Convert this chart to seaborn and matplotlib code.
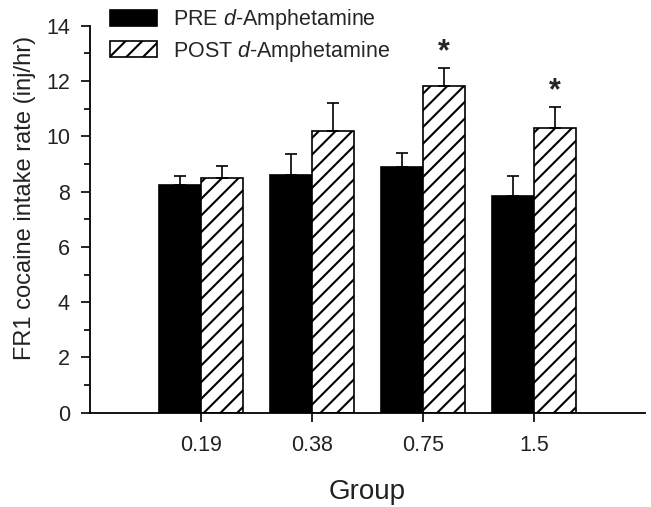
import matplotlib
matplotlib.use('Agg')
import matplotlib.pyplot as plt
import seaborn as sns
import pandas as pd
import numpy as np
from matplotlib.patches import Patch
from matplotlib.ticker import MultipleLocator

# data
groups = ['0.19', '0.38', '0.75', '1.5']
pre_mean = [8.23, 8.59, 8.91, 7.85]
pre_err = [0.34, 0.79, 0.50, 0.73]
post_mean = [8.50, 10.20, 11.84, 10.29]
post_err = [0.43, 1.02, 0.62, 0.76]
post_signif = [False, False, True, True]
conditions = ['PRE', 'POST']

sns.set_style('ticks')
plt.rcParams['font.family'] = ['Liberation Sans', 'DejaVu Sans']
plt.rcParams['mathtext.fontset'] = 'custom'
plt.rcParams['mathtext.rm'] = 'Liberation Sans'
plt.rcParams['mathtext.it'] = 'Liberation Sans:italic'
plt.rcParams['hatch.linewidth'] = 1.5

df = pd.DataFrame({
    'Group': groups * 2,
    'rate': pre_mean + post_mean,
    'cond': [conditions[0]] * len(groups) + [conditions[1]] * len(groups),
})

fig = plt.figure(figsize=(6.51, 5.07), dpi=100)
ax = fig.add_axes([0.138, 0.186, 0.853, 0.763])

sns.barplot(data=df, x='Group', y='rate', hue='cond', palette=['black', 'white'],
            width=0.76, gap=0, errorbar=None, edgecolor='black', linewidth=1.2,
            saturation=1, legend=False, ax=ax)

# hatch the POST bars
for bar in ax.containers[1]:
    bar.set_hatch('//')

# one-sided error bars (SEM, up only)
for cont, means, errs in [(ax.containers[0], pre_mean, pre_err),
                          (ax.containers[1], post_mean, post_err)]:
    xs = [b.get_x() + b.get_width() / 2 for b in cont]
    ax.errorbar(xs, means, yerr=[np.zeros(len(errs)), errs], fmt='none',
                ecolor='black', elinewidth=1.2, capsize=4.5, capthick=1.2, zorder=1)

# significance stars
for b, m, e, s in zip(ax.containers[1], post_mean, post_err, post_signif):
    if s:
        ax.annotate('*', (b.get_x() + b.get_width() / 2, m + e), xytext=(0, 1),
                    textcoords='offset points', ha='center', va='bottom',
                    fontsize=22, fontweight='bold')

ax.set_xlim(-1, 4)
ax.set_ylim(0, 14)
ax.yaxis.set_major_locator(MultipleLocator(2))
ax.yaxis.set_minor_locator(MultipleLocator(1))
ax.tick_params(axis='both', which='major', direction='out', length=6.3, width=1.2,
               labelsize=15.5, color='black', labelcolor='#222222')
ax.tick_params(axis='y', which='major', pad=8)
ax.tick_params(axis='x', which='major', pad=10)
ax.tick_params(axis='y', which='minor', direction='out', length=4.5, width=1.2, color='black')
sns.despine(ax=ax)
for sp in ['left', 'bottom']:
    ax.spines[sp].set_linewidth(1.3)
    ax.spines[sp].set_color('black')

ax.set_xlabel('Group', fontsize=20, labelpad=16, color='#222222')
ax.set_ylabel('FR1 cocaine intake rate (inj/hr)', fontsize=17, labelpad=7, color='#222222')
ax.yaxis.label.set_y(0.556)

handles = [Patch(facecolor='black', edgecolor='black', linewidth=1.2),
           Patch(facecolor='white', edgecolor='black', linewidth=1.2, hatch='//')]
labels = ['PRE $\\mathit{d}$-Amphetamine', 'POST $\\mathit{d}$-Amphetamine']
fig.legend(handles, labels, loc='upper left', bbox_to_anchor=(0.169, 0.986),
           frameon=False, fontsize=15.5, borderpad=0, borderaxespad=0,
           handlelength=2.17, handleheight=0.78, handletextpad=0.74, labelspacing=0.3)

fig.savefig('out.png', dpi=100)
